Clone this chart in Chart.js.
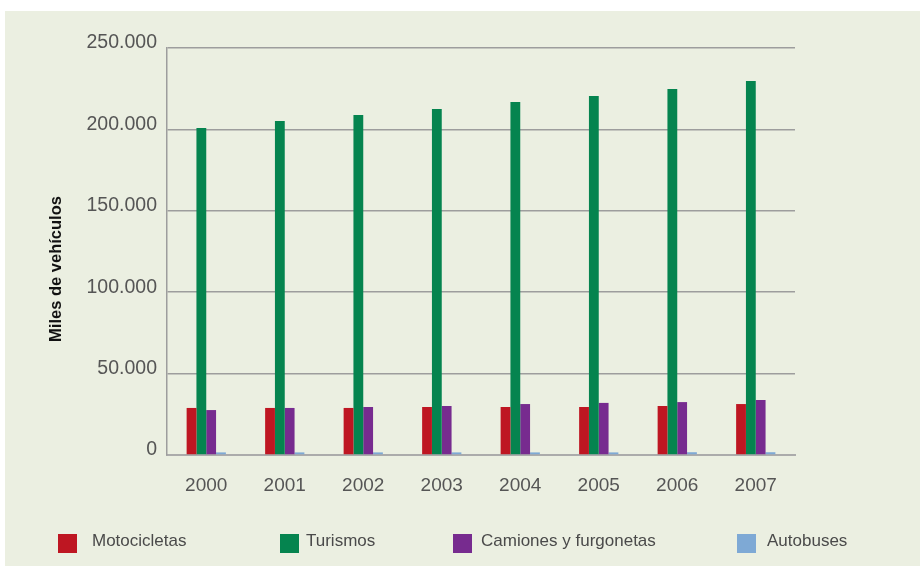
<!DOCTYPE html>
<html>
<head>
<meta charset="utf-8">
<script src="https://cdn.jsdelivr.net/npm/chart.js@4"></script>
<style>
  body { margin: 0; background: #fff; }
  #wrap { position: relative; width: 920px; height: 567px; }
  .leg { position: absolute; font-family: "Liberation Sans", Arial, sans-serif; font-size: 17px; color: #4a4a4a; }
  .box { position: absolute; width: 19px; height: 19px; }
</style>
</head>
<body>
<div id="wrap">
  <canvas id="myChart" width="920" height="567"></canvas>
</div>
<script>
let years = ['2000', '2001', '2002', '2003', '2004', '2005', '2006', '2007'];
let motocicletas = [28900, 28900, 28900, 29500, 29500, 29500, 30100, 31300];
let turismos = [200800, 205100, 208800, 212500, 216800, 220500, 224800, 229700];
let camiones = [27600, 28900, 29500, 30100, 31300, 32000, 32500, 33800];
let autobuses = [1600, 1600, 1600, 1600, 1600, 1600, 1700, 1700];
let seriesNames = ['Motocicletas', 'Turismos', 'Camiones y furgonetas', 'Autobuses'];
let seriesColors = ['#be1622', '#05844f', '#772b8f', '#7ea9d5'];
let legendX = [58, 280, 453, 737];
let legendTextX = [92, 306, 481, 767];

let fontFam = '"Liberation Sans", Arial, sans-serif';

// background panel + rotated y title
let panelPlugin = {
    id: 'panel',
    beforeDraw: (chart) => {
        let ctx = chart.ctx;
        ctx.save();
        ctx.fillStyle = '#ebefe1';
        ctx.fillRect(5, 11, 915, 555);
        ctx.restore();
    },
    afterDraw: (chart) => {
        let ctx = chart.ctx;
        ctx.save();
        ctx.translate(56, 269);
        ctx.rotate(-Math.PI / 2);
        ctx.font = 'bold 16.5px ' + fontFam;
        ctx.fillStyle = '#111';
        ctx.textAlign = 'center';
        ctx.textBaseline = 'middle';
        ctx.fillText('Miles de vehículos', 0, 0);
        ctx.restore();
    }
};

let datasets = [motocicletas, turismos, camiones, autobuses].map((d, i) => ({
    label: seriesNames[i],
    data: d,
    backgroundColor: seriesColors[i],
    borderWidth: 0,
    categoryPercentage: 0.5,
    barPercentage: 1.0
}));

let ctx = document.getElementById('myChart').getContext('2d');
let chart = new Chart(ctx, {
    type: 'bar',
    data: { labels: years, datasets: datasets },
    options: {
        responsive: false,
        animation: false,
        layout: { padding: { top: 48, right: 125, bottom: 0, left: 0 } },
        plugins: { legend: { display: false }, tooltip: { enabled: false } },
        scales: {
            x: {
                grid: { display: false, drawTicks: false },
                border: { color: '#ababab', width: 2 },
                ticks: { color: '#555', padding: 19, font: { family: fontFam, size: 19 } },
                afterFit: (s) => { s.height = 112; }
            },
            y: {
                min: 0,
                max: 250000,
                grid: { color: '#9d9d9d', lineWidth: 1.5, drawTicks: false },
                border: { color: '#9d9d9d', width: 1.5 },
                ticks: {
                    stepSize: 50000,
                    color: '#555',
                    padding: 10,
                    labelOffset: -5,
                    font: { family: fontFam, size: 19.5 },
                    callback: (v) => v.toLocaleString('de-DE')
                },
                afterFit: (s) => { s.width = 167; }
            }
        }
    },
    plugins: [panelPlugin]
});

// legend
let wrap = document.getElementById('wrap');
seriesNames.forEach((name, i) => {
    let b = document.createElement('div');
    b.className = 'box';
    b.style.left = legendX[i] + 'px';
    b.style.top = '534px';
    b.style.background = seriesColors[i];
    wrap.appendChild(b);
    let t = document.createElement('div');
    t.className = 'leg';
    t.style.left = legendTextX[i] + 'px';
    t.style.top = '531px';
    t.textContent = name;
    wrap.appendChild(t);
});
</script>
</body>
</html>
